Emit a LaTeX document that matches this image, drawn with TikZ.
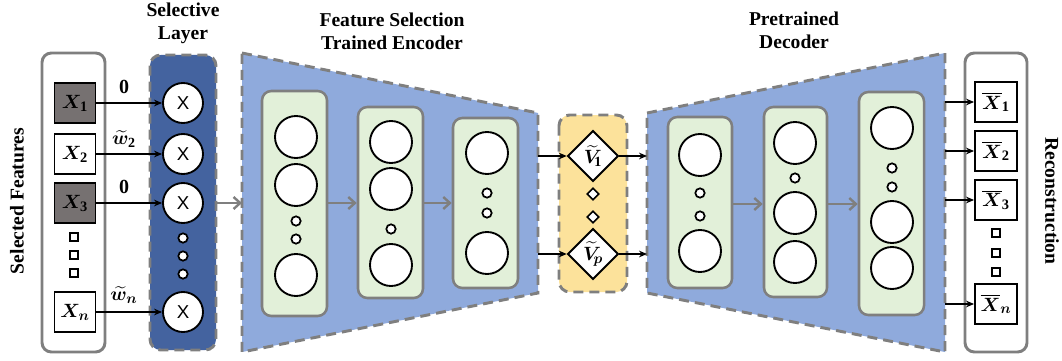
\documentclass[tikz,border=0pt]{standalone}
\usepackage{fontspec}
\usepackage{amsmath,bm}
\setmainfont{Liberation Serif}
\newfontfamily\arialfont{Liberation Sans}
\usetikzlibrary{arrows.meta,shapes.geometric}
\definecolor{bordergray}{HTML}{7F7F7F}
\definecolor{selblue}{HTML}{44639F}
\definecolor{trapblue}{HTML}{8FAADC}
\definecolor{layergreen}{HTML}{E2F0D9}
\definecolor{latyellow}{HTML}{FCE29B}
\definecolor{featgray}{HTML}{767171}
\tikzset{
  graybox/.style={draw=bordergray, line width=2.2pt, rounded corners=7pt, fill=white},
  dashbox/.style={draw=bordergray, line width=2.2pt, dash pattern=on 7.5pt off 4.5pt},
  layerbox/.style={draw=bordergray, line width=1.9pt, rounded corners=7pt, fill=layergreen},
  featbox/.style={draw=black, line width=1.4pt, minimum width=30.75pt, minimum height=30pt, inner sep=0pt, font=\fontsize{15.5}{17}\selectfont},
  outbox/.style={draw=black, line width=1.4pt, fill=white, minimum width=31.5pt, minimum height=30pt, inner sep=0pt, font=\fontsize{15.5}{17}\selectfont},
  bigneuron/.style={circle, draw=black, line width=1.4pt, fill=white, minimum size=31.5pt, inner sep=0pt},
  selneuron/.style={circle, draw=black, line width=1.4pt, fill=white, minimum size=30pt, inner sep=0pt, font=\arialfont\fontsize{14}{16}\selectfont},
  dot/.style={circle, draw=black, line width=1.3pt, fill=white, minimum size=7pt, inner sep=0pt},
  sq/.style={rectangle, draw=black, line width=1.3pt, fill=white, minimum size=6pt, inner sep=0pt},
  latdiamond/.style={diamond, draw=black, line width=1.4pt, fill=white, minimum width=38pt, minimum height=38pt, inner sep=0pt, font=\fontsize{15}{17}\selectfont},
  smalldiamond/.style={diamond, draw=black, line width=1.2pt, fill=white, minimum width=9pt, minimum height=9pt, inner sep=0pt},
  blackarrow/.style={draw=black, line width=1.3pt, -{Stealth[length=6pt,width=5pt]}},
  grayarrow/.style={draw=bordergray, line width=1.8pt, -{Straight Barb[length=5pt,width=9pt,line width=1.8pt]}},
  title/.style={font=\bfseries\fontsize{14.7}{17.5}\selectfont, align=center},
  wlabel/.style={font=\fontsize{15}{17}\selectfont, inner sep=1pt}
}
\begin{document}
\begin{tikzpicture}[x=0.75pt,y=-0.75pt]
\useasboundingbox (0,0) rectangle (1062,360);

% ---------- titles ----------
\node[title] (tsel) at (183,23) {Selective\\Layer};
\node[title] (tenc) at (392,31) {Feature Selection\\Trained Encoder};
\node[title] (tdec) at (794,30) {Pretrained\\Decoder};
\node[title, rotate=90] (tsf) at (17,201) {Selected Features};
\node[title, rotate=-90] (trec) at (1052,201) {Reconstruction};

% ---------- input features ----------
\draw[graybox] (42,53) rectangle (105,352);
\node[featbox, fill=featgray] (x1) at (75,103) {$\bm{X}_{\mathbf{1}}$};
\node[featbox, fill=white] (x2) at (75,154) {$\bm{X}_{\mathbf{2}}$};
\node[featbox, fill=featgray] (x3) at (75,203) {$\bm{X}_{\mathbf{3}}$};
\node[featbox, fill=white] (xn) at (75,312) {$\bm{X}_{\bm{n}}$};
\node[sq] (s1) at (74,237) {};
\node[sq] (s2) at (74,255) {};
\node[sq] (s3) at (74,273) {};

% ---------- selective layer ----------
\fill[selblue, rounded corners=8pt] (150,55) rectangle (216,350);
\draw[dashbox, rounded corners=8pt] (150,55) rectangle (216,350);
\node[selneuron] (c1) at (183,103) {X};
\node[selneuron] (c2) at (183,154) {X};
\node[selneuron] (c3) at (183,203) {X};
\node[selneuron] (cn) at (183,312) {X};
\node[dot] (cd1) at (183,238) {};
\node[dot] (cd2) at (183,256) {};
\node[dot] (cd3) at (183,274) {};

\draw[blackarrow] (x1) -- (c1);
\draw[blackarrow] (x2) -- (c2);
\draw[blackarrow] (x3) -- (c3);
\draw[blackarrow] (xn) -- (cn);
\node[wlabel] (l1) at (124,87) {$\mathbf{0}$};
\node[wlabel] (l2) at (124,139) {$\widetilde{\bm{w}}_{\mathbf{2}}$};
\node[wlabel] (l3) at (124,187) {$\mathbf{0}$};
\node[wlabel] (ln) at (124,295) {$\widetilde{\bm{w}}_{\bm{n}}$};

% ---------- encoder ----------
\coordinate (eTL) at (242,53);
\coordinate (eBL) at (242,352);
\coordinate (eTR) at (538,113);
\coordinate (eBR) at (538,293);
\fill[trapblue] (eTL) -- (eTR) -- (eBR) -- (eBL) -- cycle;
\draw[dashbox] (eTL) -- (eTR) -- (eBR) -- (eBL) -- cycle;
\coordinate (eIn) at (242,203);
\coordinate (selOut) at (217,203);
\draw[grayarrow] (selOut) -- (eIn);

\node[layerbox, minimum width=48.75pt, minimum height=168.75pt, inner sep=0pt, rectangle] (el1) at (294.5,203.5) {};
\node[layerbox, minimum width=48.75pt, minimum height=143.25pt, inner sep=0pt, rectangle] (el2) at (390.5,202.5) {};
\node[layerbox, minimum width=48.75pt, minimum height=127.5pt, inner sep=0pt, rectangle] (el3) at (485.5,203) {};

\node[bigneuron] (e11) at (296,137) {};
\node[bigneuron] (e12) at (296,185) {};
\node[dot] (e13) at (296,221) {};
\node[dot] (e14) at (296,239) {};
\node[bigneuron] (e15) at (296,275) {};

\node[bigneuron] (e21) at (391,142) {};
\node[bigneuron] (e22) at (391,189) {};
\node[dot] (e23) at (391,229) {};
\node[bigneuron] (e24) at (391,265) {};

\node[bigneuron] (e31) at (487,153) {};
\node[dot] (e32) at (487,193) {};
\node[dot] (e33) at (487,213) {};
\node[bigneuron] (e34) at (487,253) {};

\draw[grayarrow] (el1.east |- 0,203) -- (el2.west |- 0,203);
\draw[grayarrow] (el2.east |- 0,203) -- (el3.west |- 0,203);

% ---------- latent ----------
\fill[latyellow, rounded corners=8pt] (559,115) rectangle (627,292);
\draw[dashbox, rounded corners=8pt] (559,115) rectangle (627,292);
\node[latdiamond] (v1) at (593,156) {$\widetilde{\bm{V}}_{\!\mathbf{1}}$};
\node[latdiamond] (vp) at (593,254) {$\widetilde{\bm{V}}_{\!\bm{p}}$};
\node[smalldiamond] (vd1) at (593,194) {};
\node[smalldiamond] (vd2) at (593,217) {};

% ---------- decoder ----------
\coordinate (dTL) at (647,113);
\coordinate (dBL) at (647,293);
\coordinate (dTR) at (945,53);
\coordinate (dBR) at (945,352);
\fill[trapblue] (dTL) -- (dTR) -- (dBR) -- (dBL) -- cycle;
\draw[dashbox] (dTL) -- (dTR) -- (dBR) -- (dBL) -- cycle;

\coordinate (eo1) at (538,156);
\coordinate (eo2) at (538,254);
\coordinate (di1) at (647,156);
\coordinate (di2) at (647,254);
\draw[blackarrow] (eo1) -- (v1);
\draw[blackarrow] (eo2) -- (vp);
\draw[blackarrow] (v1) -- (di1);
\draw[blackarrow] (vp) -- (di2);

\node[layerbox, minimum width=48pt, minimum height=128.25pt, inner sep=0pt, rectangle] (dl1) at (700,202.5) {};
\node[layerbox, minimum width=47.25pt, minimum height=142.5pt, inner sep=0pt, rectangle] (dl2) at (795.5,202) {};
\node[layerbox, minimum width=48.75pt, minimum height=167.25pt, inner sep=0pt, rectangle] (dl3) at (891.5,203.5) {};

\node[bigneuron] (d11) at (700,155) {};
\node[dot] (d12) at (700,193) {};
\node[dot] (d13) at (700,216) {};
\node[bigneuron] (d14) at (700,251) {};

\node[bigneuron] (d21) at (795,143) {};
\node[dot] (d22) at (795,178) {};
\node[bigneuron] (d23) at (795,213) {};
\node[bigneuron] (d24) at (795,262) {};

\node[bigneuron] (d31) at (892,128) {};
\node[dot] (d32) at (892,168) {};
\node[dot] (d33) at (892,187) {};
\node[bigneuron] (d34) at (892,222) {};
\node[bigneuron] (d35) at (892,268) {};

\draw[grayarrow] (dl1.east |- 0,204) -- (dl2.west |- 0,204);
\draw[grayarrow] (dl2.east |- 0,204) -- (dl3.west |- 0,204);

% ---------- output ----------
\draw[graybox] (965,53) rectangle (1027,352);
\node[outbox] (o1) at (996,102) {$\overline{\bm{X}}_{\mathbf{1}}$};
\node[outbox] (o2) at (996,151) {$\overline{\bm{X}}_{\mathbf{2}}$};
\node[outbox] (o3) at (996,200) {$\overline{\bm{X}}_{\mathbf{3}}$};
\node[outbox] (on) at (996,304) {$\overline{\bm{X}}_{\bm{n}}$};
\node[sq] (os1) at (996,233) {};
\node[sq] (os2) at (996,253) {};
\node[sq] (os3) at (996,272) {};

\coordinate (do1) at (945,102);
\coordinate (do2) at (945,151);
\coordinate (do3) at (945,200);
\coordinate (don) at (945,304);
\draw[blackarrow] (do1) -- (o1);
\draw[blackarrow] (do2) -- (o2);
\draw[blackarrow] (do3) -- (o3);
\draw[blackarrow] (don) -- (on);
\end{tikzpicture}
\end{document}
